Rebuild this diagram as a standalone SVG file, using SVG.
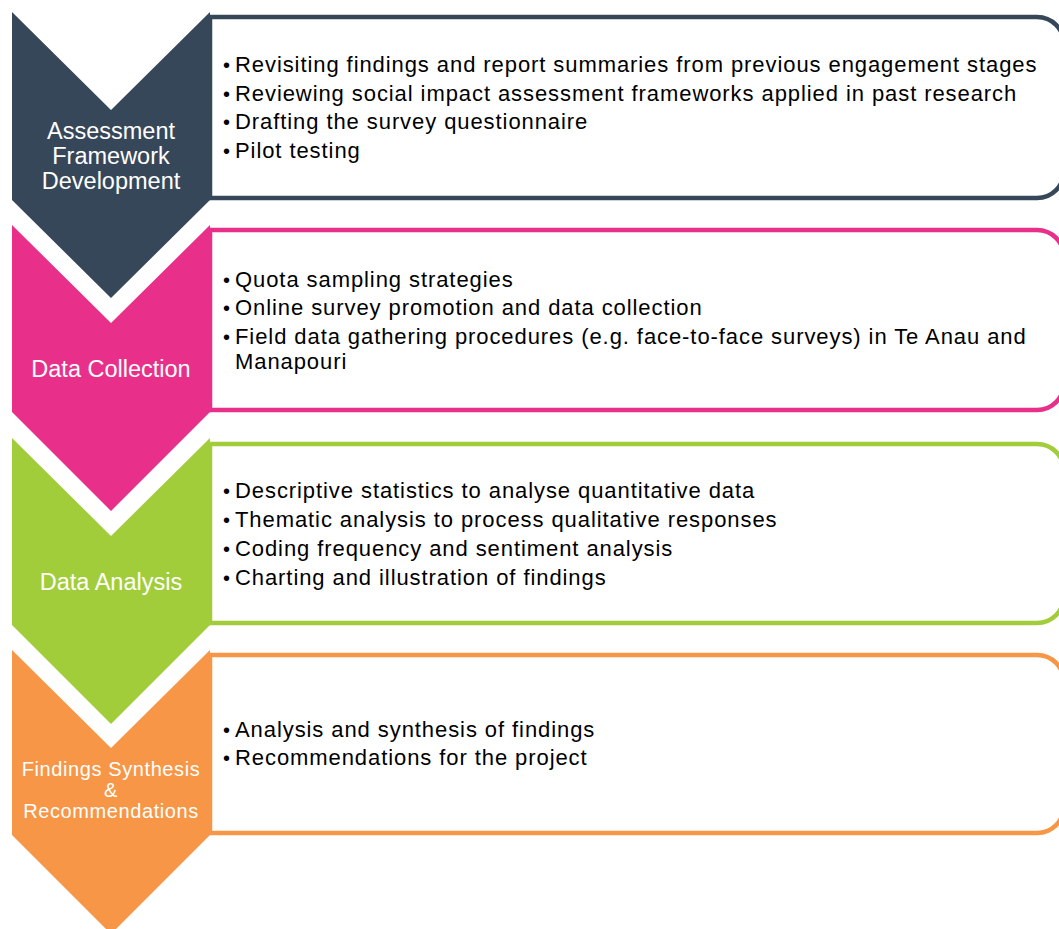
<svg xmlns="http://www.w3.org/2000/svg" width="1059" height="929" viewBox="0 0 1059 929">
  <style>
    .box { fill: #ffffff; stroke-width: 4.5; }
    .lbl { font-family: "Liberation Sans", Arial, sans-serif; fill: #ffffff; text-anchor: middle; }
    .sm { font-size: 20px; letter-spacing: 0.6px; }
    .item { font-family: "Liberation Sans", Arial, sans-serif; font-size: 22px; letter-spacing: 0.92px; fill: #000000; }
    .dot { font-family: "Liberation Sans", Arial, sans-serif; font-size: 20px; fill: #000000; }
  </style>
  <rect width="1059" height="929" fill="#ffffff"/>

  <!-- Stage 1 -->
  <g id="stage-assessment">
    <path class="box" stroke="#37475a" d="M210,17 H1037 A27,27 0 0 1 1064,44 V171 A27,27 0 0 1 1037,198 H210 Z"/>
    <polygon fill="#37475a" points="12,12 111,110 210,12 210,200 111,298 12,200"/>
    <text class="lbl" font-size="23.5" x="111" y="139">Assessment</text>
    <text class="lbl" font-size="23.5" x="111" y="164">Framework</text>
    <text class="lbl" font-size="23.5" x="111" y="189">Development</text>
    <text class="dot" x="223" y="72">•</text>
    <text class="item" x="235" y="72">Revisiting findings and report summaries from previous engagement stages</text>
    <text class="dot" x="223" y="101">•</text>
    <text class="item" x="235" y="101">Reviewing social impact assessment frameworks applied in past research</text>
    <text class="dot" x="223" y="129">•</text>
    <text class="item" x="235" y="129">Drafting the survey questionnaire</text>
    <text class="dot" x="223" y="158">•</text>
    <text class="item" x="235" y="158">Pilot testing</text>
  </g>

  <!-- Stage 2 -->
  <g id="stage-collection">
    <path class="box" stroke="#e8308a" d="M210,230 H1037 A27,27 0 0 1 1064,257 V383 A27,27 0 0 1 1037,410 H210 Z"/>
    <polygon fill="#e8308a" points="12,225 111,323 210,225 210,412 111,511 12,412"/>
    <text class="lbl" font-size="23.5" x="111" y="377">Data Collection</text>
    <text class="dot" x="223" y="287">•</text>
    <text class="item" x="235" y="287">Quota sampling strategies</text>
    <text class="dot" x="223" y="315">•</text>
    <text class="item" x="235" y="315">Online survey promotion and data collection</text>
    <text class="dot" x="223" y="344">•</text>
    <text class="item" x="235" y="344">Field data gathering procedures (e.g. face-to-face surveys) in Te Anau and</text>
    <text class="item" x="235" y="369">Manapouri</text>
  </g>

  <!-- Stage 3 -->
  <g id="stage-analysis">
    <path class="box" stroke="#a2cd3a" d="M210,444 H1037 A27,27 0 0 1 1064,471 V596 A27,27 0 0 1 1037,623 H210 Z"/>
    <polygon fill="#a2cd3a" points="12,438 111,536 210,438 210,625 111,724 12,625"/>
    <text class="lbl" font-size="23.5" x="111" y="590">Data Analysis</text>
    <text class="dot" x="223" y="498">•</text>
    <text class="item" x="235" y="498">Descriptive statistics to analyse quantitative data</text>
    <text class="dot" x="223" y="527">•</text>
    <text class="item" x="235" y="527">Thematic analysis to process qualitative responses</text>
    <text class="dot" x="223" y="556">•</text>
    <text class="item" x="235" y="556">Coding frequency and sentiment analysis</text>
    <text class="dot" x="223" y="585">•</text>
    <text class="item" x="235" y="585">Charting and illustration of findings</text>
  </g>

  <!-- Stage 4 -->
  <g id="stage-synthesis">
    <path class="box" stroke="#f79646" d="M210,655 H1037 A27,27 0 0 1 1064,682 V806 A27,27 0 0 1 1037,833 H210 Z"/>
    <polygon fill="#f79646" points="12,650 111,748 210,650 210,835 111,934 12,835"/>
    <text class="lbl sm" x="111" y="776">Findings Synthesis</text>
    <text class="lbl sm" x="111" y="797">&amp;</text>
    <text class="lbl sm" x="111" y="818">Recommendations</text>
    <text class="dot" x="223" y="737">•</text>
    <text class="item" x="235" y="737">Analysis and synthesis of findings</text>
    <text class="dot" x="223" y="765">•</text>
    <text class="item" x="235" y="765">Recommendations for the project</text>
  </g>

  <g id="connectors"/>
</svg>
